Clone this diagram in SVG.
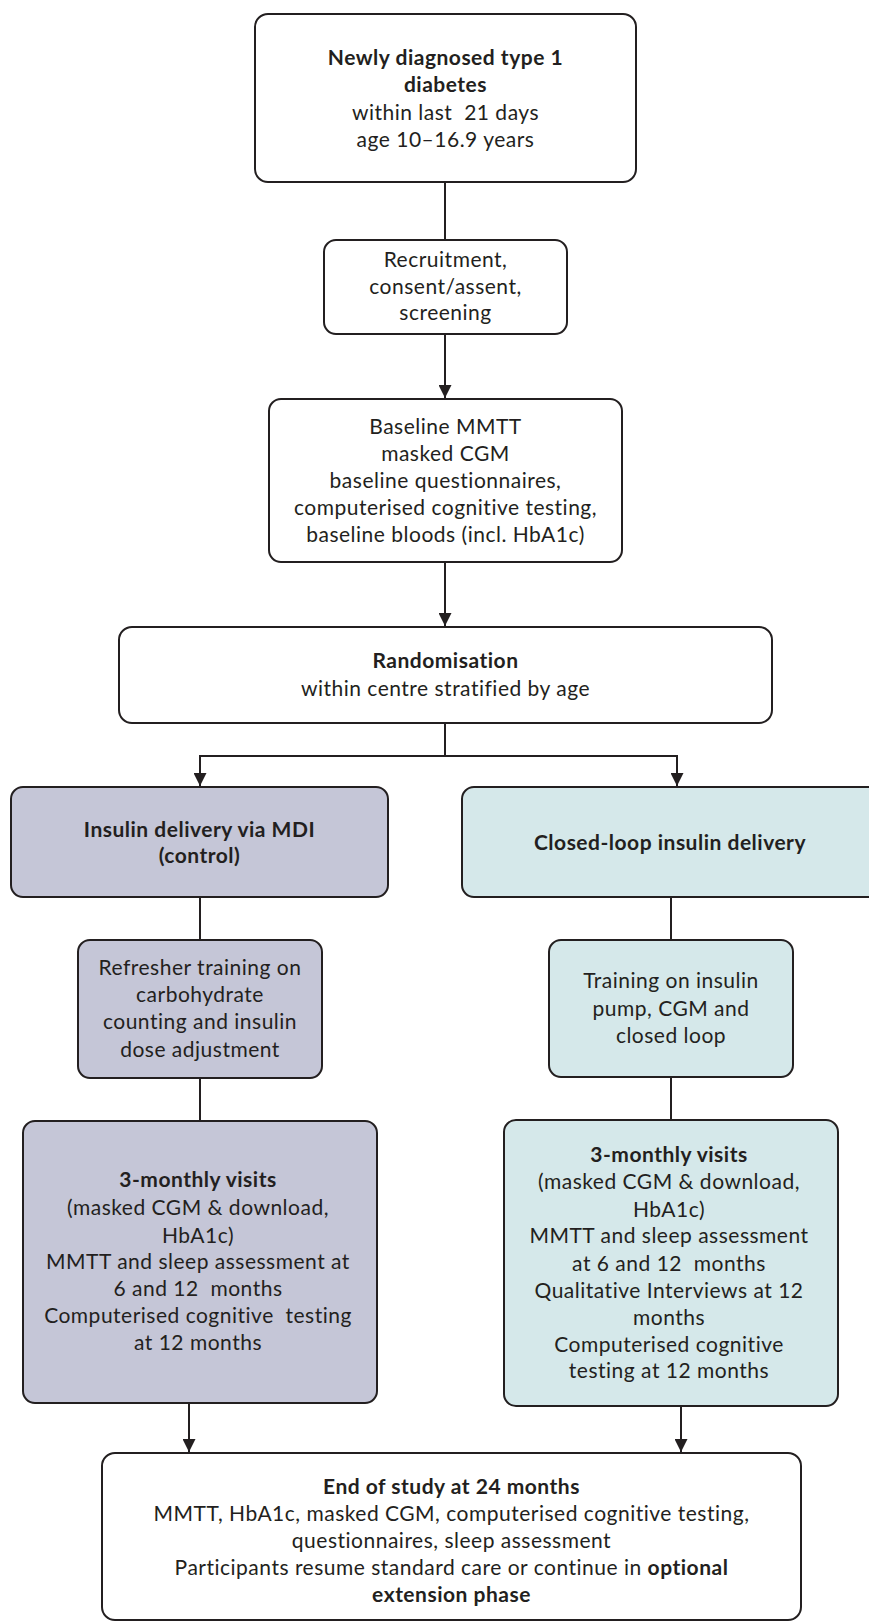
<svg xmlns="http://www.w3.org/2000/svg" width="869" height="1622" viewBox="0 0 869 1622">
<defs>
<style>
.box{stroke:#231f20;stroke-width:2;}
.w{fill:#ffffff;}
.p{fill:#c5c6d7;}
.t{fill:#d5e8ea;}
text{font-family:Lato,"Open Sans","Liberation Sans",sans-serif;font-size:21px;letter-spacing:0.5px;fill:#231f20;text-anchor:middle;}
.b{font-weight:bold;}
.c{fill:none;stroke:#231f20;stroke-width:2;}
</style>
<marker id="arr" markerWidth="14" markerHeight="13" refX="14" refY="7" orient="auto" markerUnits="userSpaceOnUse" viewBox="0 0 14 14">
<path d="M0,0 L14,7 L0,14 Z" fill="#231f20"/>
</marker>
</defs>
<rect width="869" height="1622" fill="#ffffff"/>
<g id="connectors">
<line class="c" x1="445" y1="182" x2="445" y2="240"/>
<line class="c" x1="445" y1="334" x2="445" y2="398" marker-end="url(#arr)"/>
<line class="c" x1="445" y1="562" x2="445" y2="626" marker-end="url(#arr)"/>
<polyline class="c" points="445,723 445,756 200,756 200,786" marker-end="url(#arr)"/>
<polyline class="c" points="445,756 677,756 677,786" marker-end="url(#arr)"/>
<line class="c" x1="200" y1="897" x2="200" y2="940"/>
<line class="c" x1="200" y1="1078" x2="200" y2="1121"/>
<line class="c" x1="671" y1="897" x2="671" y2="940"/>
<line class="c" x1="671" y1="1077" x2="671" y2="1120"/>
<line class="c" x1="189" y1="1403" x2="189" y2="1452" marker-end="url(#arr)"/>
<line class="c" x1="681" y1="1406" x2="681" y2="1452" marker-end="url(#arr)"/>
</g>
<g id="n1">
<rect class="box w" x="255" y="14" width="381" height="168" rx="13"/>
<text class="b" x="445.5" y="65">Newly diagnosed type 1</text>
<text class="b" x="445.5" y="92">diabetes</text>
<text x="445.5" y="120" xml:space="preserve">within last  21 days</text>
<text x="445.5" y="147">age 10–16.9 years</text>
</g>
<g id="n2">
<rect class="box w" x="324" y="240" width="243" height="94" rx="12"/>
<text x="445.5" y="267">Recruitment,</text>
<text x="445.5" y="294">consent/assent,</text>
<text x="445.5" y="320">screening</text>
</g>
<g id="n3">
<rect class="box w" x="269" y="399" width="353" height="163" rx="12"/>
<text x="445.5" y="434">Baseline MMTT</text>
<text x="445.5" y="461">masked CGM</text>
<text x="445.5" y="488">baseline questionnaires,</text>
<text x="445.5" y="515">computerised cognitive testing,</text>
<text x="445.5" y="542">baseline bloods (incl. HbA1c)</text>
</g>
<g id="n4">
<rect class="box w" x="119" y="627" width="653" height="96" rx="13"/>
<text class="b" x="445.5" y="668">Randomisation</text>
<text x="445.5" y="696">within centre stratified by age</text>
</g>
<g id="n5">
<rect class="box p" x="11" y="787" width="377" height="110" rx="12"/>
<text class="b" x="199.5" y="837">Insulin delivery via MDI</text>
<text class="b" x="199.5" y="863">(control)</text>
</g>
<g id="n6">
<rect class="box t" x="462" y="787" width="420" height="110" rx="12"/>
<text class="b" x="670" y="850">Closed-loop insulin delivery</text>
</g>
<g id="n7">
<rect class="box p" x="78" y="940" width="244" height="138" rx="12"/>
<text x="200" y="975">Refresher training on</text>
<text x="200" y="1002">carbohydrate</text>
<text x="200" y="1029">counting and insulin</text>
<text x="200" y="1057">dose adjustment</text>
</g>
<g id="n8">
<rect class="box t" x="549" y="940" width="244" height="137" rx="12"/>
<text x="671" y="988">Training on insulin</text>
<text x="671" y="1016">pump, CGM and</text>
<text x="671" y="1043">closed loop</text>
</g>
<g id="n9">
<rect class="box p" x="23" y="1121" width="354" height="282" rx="12"/>
<text class="b" x="198" y="1187">3-monthly visits</text>
<text x="198" y="1215">(masked CGM &amp; download,</text>
<text x="198" y="1243">HbA1c)</text>
<text x="198" y="1269">MMTT and sleep assessment at</text>
<text x="198" y="1296" xml:space="preserve">6 and 12  months</text>
<text x="198" y="1323" xml:space="preserve">Computerised cognitive  testing</text>
<text x="198" y="1350">at 12 months</text>
</g>
<g id="n10">
<rect class="box t" x="504" y="1120" width="334" height="286" rx="12"/>
<text class="b" x="669" y="1162">3-monthly visits</text>
<text x="669" y="1189">(masked CGM &amp; download,</text>
<text x="669" y="1217">HbA1c)</text>
<text x="669" y="1243">MMTT and sleep assessment</text>
<text x="669" y="1271" xml:space="preserve">at 6 and 12  months</text>
<text x="669" y="1298">Qualitative Interviews at 12</text>
<text x="669" y="1325">months</text>
<text x="669" y="1352">Computerised cognitive</text>
<text x="669" y="1378">testing at 12 months</text>
</g>
<g id="n11">
<rect class="box w" x="102" y="1453" width="699" height="167" rx="13"/>
<text class="b" x="451.5" y="1494">End of study at 24 months</text>
<text x="451.5" y="1521">MMTT, HbA1c, masked CGM, computerised cognitive testing,</text>
<text x="451.5" y="1548">questionnaires, sleep assessment</text>
<text x="451.5" y="1575">Participants resume standard care or continue in <tspan class="b">optional</tspan></text>
<text class="b" x="451.5" y="1602">extension phase</text>
</g>
</svg>
